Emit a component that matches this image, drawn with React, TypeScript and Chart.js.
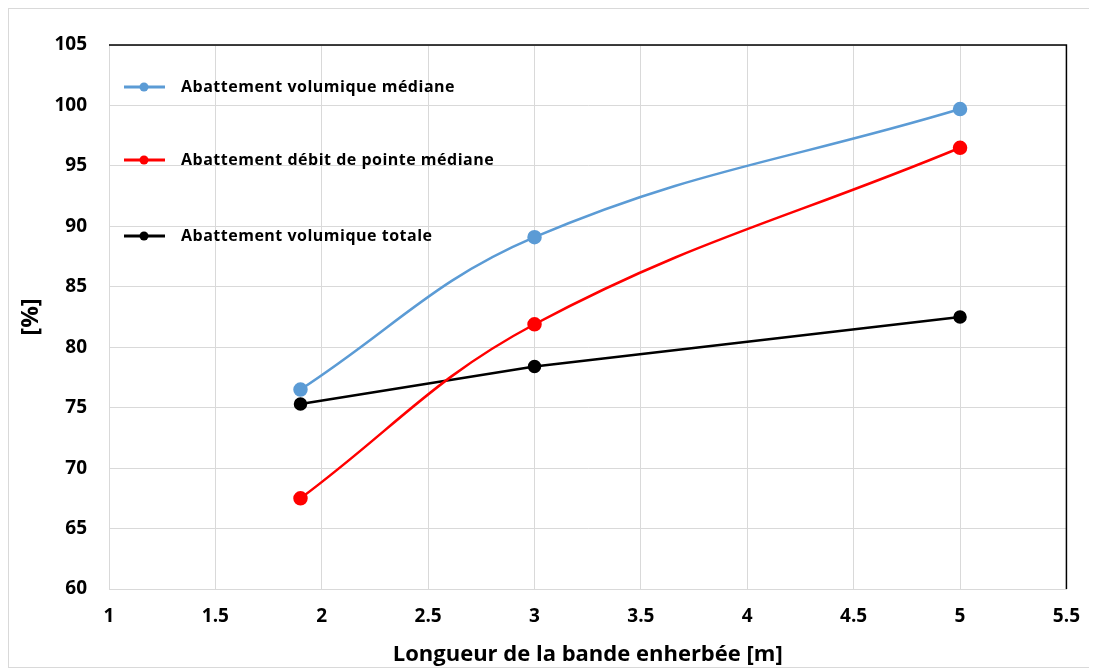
import React, { useEffect, useRef } from "react";
import { Chart, registerables } from "chart.js";

Chart.register(...registerables);

const xValues = [1.9, 3, 5];
const labels = ["Abattement volumique médiane", "Abattement débit de pointe médiane", "Abattement volumique totale"];
const volMediane = [76.5, 89.1, 99.7];
const debitMediane = [67.5, 81.9, 96.5];
const volTotale = [75.3, 78.4, 82.5];
const xTitle = "Longueur de la bande enherbée [m]";
const yTitle = "[%]";

const FONT = "'Open Sans', sans-serif";

const legendPlugin = {
  id: "customLegend",
  afterDraw(chart: any) {
    const { ctx, chartArea } = chart;
    ctx.save();
    ctx.strokeStyle = "#000";
    ctx.lineWidth = 1.5;
    ctx.beginPath();
    ctx.moveTo(chartArea.left, chartArea.top);
    ctx.lineTo(chartArea.right, chartArea.top);
    ctx.lineTo(chartArea.right, chartArea.bottom);
    ctx.stroke();

    const offsets = [42, 115, 191];
    chart.data.datasets.forEach((ds: any, i: number) => {
      const y = chartArea.top + offsets[i];
      const x0 = chartArea.left + 15;
      ctx.strokeStyle = ds.borderColor;
      ctx.lineWidth = 3;
      ctx.beginPath();
      ctx.moveTo(x0, y);
      ctx.lineTo(x0 + 41, y);
      ctx.stroke();
      ctx.fillStyle = ds.pointBackgroundColor;
      ctx.beginPath();
      ctx.arc(x0 + 20, y, 4.5, 0, Math.PI * 2);
      ctx.fill();
      ctx.fillStyle = "#000";
      ctx.font = `bold 16px ${FONT}`;
      try {
        (ctx as any).letterSpacing = "0.5px";
      } catch (e) {}
      ctx.textBaseline = "middle";
      ctx.textAlign = "left";
      ctx.fillText(ds.label, x0 + 57, y);
      try {
        (ctx as any).letterSpacing = "0px";
      } catch (e) {}
    });
    ctx.restore();
  },
};

export default function App() {
  const ref = useRef<HTMLCanvasElement>(null);
  useEffect(() => {
    if (!ref.current) return;
    const mk = (ys: number[]) => xValues.map((x, i) => ({ x, y: ys[i] }));
    const chart = new Chart(ref.current, {
      type: "line",
      data: {
        datasets: [
          {
            label: labels[0],
            data: mk(volMediane),
            borderColor: "#5B9BD5",
            backgroundColor: "#5B9BD5",
            pointBackgroundColor: "#5B9BD5",
            pointBorderColor: "#5B9BD5",
            pointRadius: 6,
            borderWidth: 2.5,
            tension: 0.4,
          },
          {
            label: labels[1],
            data: mk(debitMediane),
            borderColor: "#FF0000",
            backgroundColor: "#FF0000",
            pointBackgroundColor: "#FF0000",
            pointBorderColor: "#FF0000",
            pointRadius: 6,
            borderWidth: 2.5,
            tension: 0.4,
          },
          {
            label: labels[2],
            data: mk(volTotale),
            borderColor: "#000000",
            backgroundColor: "#000000",
            pointBackgroundColor: "#000000",
            pointBorderColor: "#000000",
            pointRadius: 5.5,
            borderWidth: 2.5,
            tension: 0,
          },
        ],
      },
      options: {
        animation: false,
        responsive: true,
        maintainAspectRatio: false,
        layout: { padding: { top: 36, right: 28, left: 0, bottom: 0 } },
        plugins: { legend: { display: false }, tooltip: { enabled: false } },
        scales: {
          x: {
            type: "linear",
            min: 1,
            max: 5.5,
            ticks: {
              stepSize: 0.5,
              color: "#000",
              font: { family: FONT, size: 19, weight: "bold" },
              padding: 16,
              callback: (v: any) => String(Number(v)),
            },
            grid: { color: "#d9d9d9", drawTicks: false },
            border: { color: "#d9d9d9" },
            title: {
              display: true,
              text: xTitle,
              color: "#000",
              font: { family: FONT, size: 22, weight: "bold" },
              padding: { top: 4, bottom: -1 },
            },
            afterFit(scale: any) {
              scale.height = 78;
            },
          },
          y: {
            min: 60,
            max: 105,
            ticks: {
              stepSize: 5,
              color: "#000",
              font: { family: FONT, size: 19, weight: "bold" },
              padding: 22,
            },
            grid: { color: "#d9d9d9", drawTicks: false },
            border: { color: "#d9d9d9" },
            title: {
              display: true,
              text: yTitle,
              color: "#000",
              font: { family: FONT, size: 24, weight: "bold" },
              padding: { top: 8, bottom: 0 },
            },
            afterFit(scale: any) {
              scale.width = 100;
            },
          },
        },
      },
      plugins: [legendPlugin],
    });
    return () => chart.destroy();
  }, []);
  return (
    <div style={{ width: 1087, height: 658, border: "1px solid #d9d9d9", background: "#fff" }}>
      <canvas ref={ref} />
    </div>
  );
}
